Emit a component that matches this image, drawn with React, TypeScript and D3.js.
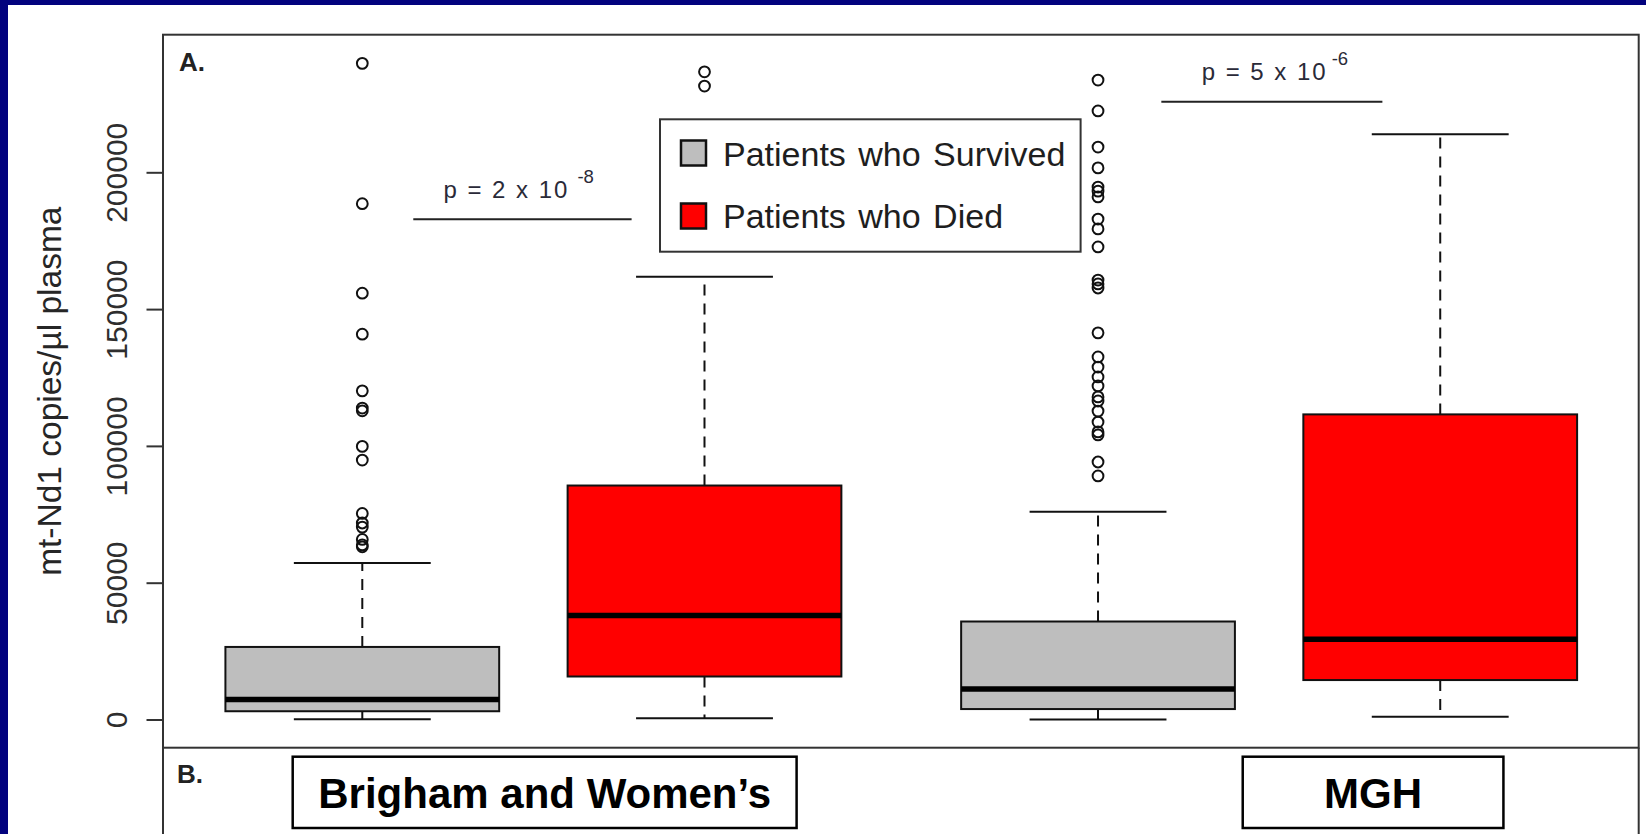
import React from "react";
import * as d3 from "d3";

// ---------- data ----------
const categories = ["BW Survived", "BW Died", "MGH Survived", "MGH Died"];
const positions = [1, 2, 3.15, 4.15];
const groupOf = ["Survived", "Died", "Survived", "Died"];
const lowerWhisker = [300, 600, 200, 1200];
const q1 = [3200, 15900, 4000, 14600];
const median = [7500, 38200, 11300, 29500];
const q3 = [26700, 85700, 36000, 111700];
const upperWhisker = [57400, 162000, 76100, 214100];

const outliersBWSurvived = [240000, 188700, 156000, 141000, 120300, 114000, 113000, 100000, 95000, 75500, 72000, 70500, 66000, 64000, 63300];
const outliersBWDied = [236900, 231700];
const outliersMGHSurvived = [233900, 222600, 209400, 201800, 194800, 193300, 191200, 183100, 179500, 172900, 160800, 159400, 157900, 141500, 132700, 129000, 125400, 122100, 118100, 116600, 112900, 108900, 105300, 104200, 94300, 89200];
const outliersMGHDied: number[] = [];
const outliers = [outliersBWSurvived, outliersBWDied, outliersMGHSurvived, outliersMGHDied];

const yTicks = [0, 50000, 100000, 150000, 200000];
const legendLabels = ["Patients who Survived", "Patients who Died"];
const fillColors: Record<string, string> = { Survived: "#bebebe", Died: "#ff0000" };
const siteLabels = ["Brigham and Women\u2019s", "MGH"];
const pValues = [
  { between: [0, 1], mantissa: "2", exponent: "-8", y: 183000 },
  { between: [2, 3], mantissa: "5", exponent: "-6", y: 226000 },
];
// annotation placement, in box-spacing units
const pLineStart = [0.149, 0.185];
const pLineEnd = [0.213, 0.169];
const pTextStart = [0.237, 0.303];

// ---------- layout ----------
const W = 1646;
const H = 834;
const frame = { left: 163, top: 34.7, right: 1638.7, splitY: 747.7 };
const FONT = "'Liberation Sans', Arial, Helvetica, sans-serif";

export default function App() {
  const x = d3.scaleLinear().domain([0.4176, 4.73]).range([frame.left, frame.right]);
  const y = d3.scaleLinear().domain([0, 200000]).range([720, 172.8]);
  const unit = x(2) - x(1);
  const boxHalf = unit * 0.4;
  const capHalf = boxHalf * 0.5;

  return (
    <svg
      width={W}
      height={H}
      style={{ position: "absolute", left: 0, top: 0, display: "block" }}
      fontFamily={FONT}
    >
      {/* slide background */}
      <rect x={0} y={0} width={W} height={H} fill="#02027e" />
      <rect x={8} y={5} width={W - 8} height={H - 5} fill="#ffffff" />

      {/* frame */}
      <g stroke="#333" strokeWidth={2} fill="none">
        <rect x={frame.left} y={frame.top} width={frame.right - frame.left} height={frame.splitY - frame.top} />
        <line x1={frame.left} x2={frame.left} y1={frame.splitY} y2={H} />
        <line x1={frame.right} x2={frame.right} y1={frame.splitY} y2={H} />
      </g>

      {/* y axis ticks */}
      {yTicks.map((t) => (
        <g key={t}>
          <line x1={frame.left - 16.5} x2={frame.left} y1={y(t)} y2={y(t)} stroke="#333" strokeWidth={2} />
          <text
            transform={`translate(126.5,${y(t)}) rotate(-90)`}
            textAnchor="middle"
            fontSize={30}
            fill="#2e2e2e"
          >
            {t}
          </text>
        </g>
      ))}
      <text
        transform={`translate(61,${(frame.top + frame.splitY) / 2}) rotate(-90)`}
        textAnchor="middle"
        fontSize={33.5}
        fill="#262626"
      >
        mt-Nd1 copies/µl plasma
      </text>

      {/* panel labels */}
      <text x={179} y={71} fontSize={26} fontWeight="bold" fill="#222">A.</text>
      <text x={177} y={783} fontSize={26} fontWeight="bold" fill="#222">B.</text>

      {/* boxes */}
      {categories.map((c, i) => {
        const cx = x(positions[i]);
        return (
          <g key={c}>
            <line x1={cx} x2={cx} y1={y(q3[i])} y2={y(upperWhisker[i])} stroke="#111" strokeWidth={2} strokeDasharray="11,8" />
            <line x1={cx} x2={cx} y1={y(q1[i])} y2={y(lowerWhisker[i])} stroke="#111" strokeWidth={2} strokeDasharray="11,8" />
            <line x1={cx - capHalf} x2={cx + capHalf} y1={y(upperWhisker[i])} y2={y(upperWhisker[i])} stroke="#111" strokeWidth={2} />
            <line x1={cx - capHalf} x2={cx + capHalf} y1={y(lowerWhisker[i])} y2={y(lowerWhisker[i])} stroke="#111" strokeWidth={2} />
            <rect
              x={cx - boxHalf}
              y={y(q3[i])}
              width={boxHalf * 2}
              height={y(q1[i]) - y(q3[i])}
              fill={fillColors[groupOf[i]]}
              stroke="#111"
              strokeWidth={2}
            />
            <line x1={cx - boxHalf} x2={cx + boxHalf} y1={y(median[i])} y2={y(median[i])} stroke="#000" strokeWidth={5.5} />
            {outliers[i].map((v, j) => (
              <circle key={j} cx={cx} cy={y(v)} r={5.4} fill="none" stroke="#111" strokeWidth={2} />
            ))}
          </g>
        );
      })}

      {/* p-value annotations */}
      {pValues.map((p, k) => {
        const xa = x(positions[p.between[0]]);
        const xb = x(positions[p.between[1]]);
        const ly = y(p.y);
        const x1 = xa + pLineStart[k] * unit;
        const x2 = xb - pLineEnd[k] * unit;
        const tx = xa + pTextStart[k] * unit;
        return (
          <g key={k}>
            <line x1={x1} x2={x2} y1={ly} y2={ly} stroke="#222" strokeWidth={2} />
            <text x={tx} y={ly - 21.5} fontSize={24} fill="#2a2a38" textLength={124} lengthAdjust="spacing">
              {`p = ${p.mantissa} x 10`}
            </text>
            <text x={tx + (k === 0 ? 134 : 130)} y={ly - 36.5} fontSize={18.5} fill="#2a2a38">
              {p.exponent}
            </text>
          </g>
        );
      })}

      {/* legend */}
      <g>
        <rect x={660} y={119.3} width={420.6} height={132.4} fill="#fff" stroke="#333" strokeWidth={2} />
        {legendLabels.map((lab, i) => (
          <g key={lab}>
            <rect x={681} y={140.5 + i * 63} width={25} height={25} fill={fillColors[lab.split(" ").pop() as string]} stroke="#111" strokeWidth={2.5} />
            <text x={723} y={165.5 + i * 62} fontSize={34} fill="#1e1e1e" wordSpacing={3}>
              {lab}
            </text>
          </g>
        ))}
      </g>

      {/* site labels (panel B) */}
      {siteLabels.map((s, i) => {
        const boxes = [
          [x(positions[0]) - 69.6, x(positions[1]) + 92.1],
          [x(positions[2]) + 144.7, x(positions[3]) + 63.2],
        ];
        const [bx0, bx1] = boxes[i];
        return (
          <g key={s}>
            <rect x={bx0} y={756.7} width={bx1 - bx0} height={71.3} fill="#fff" stroke="#000" strokeWidth={2.5} />
            <text x={(bx0 + bx1) / 2} y={808.3} textAnchor="middle" fontSize={42} fontWeight="bold" fill="#000">
              {s}
            </text>
          </g>
        );
      })}
    </svg>
  );
}
